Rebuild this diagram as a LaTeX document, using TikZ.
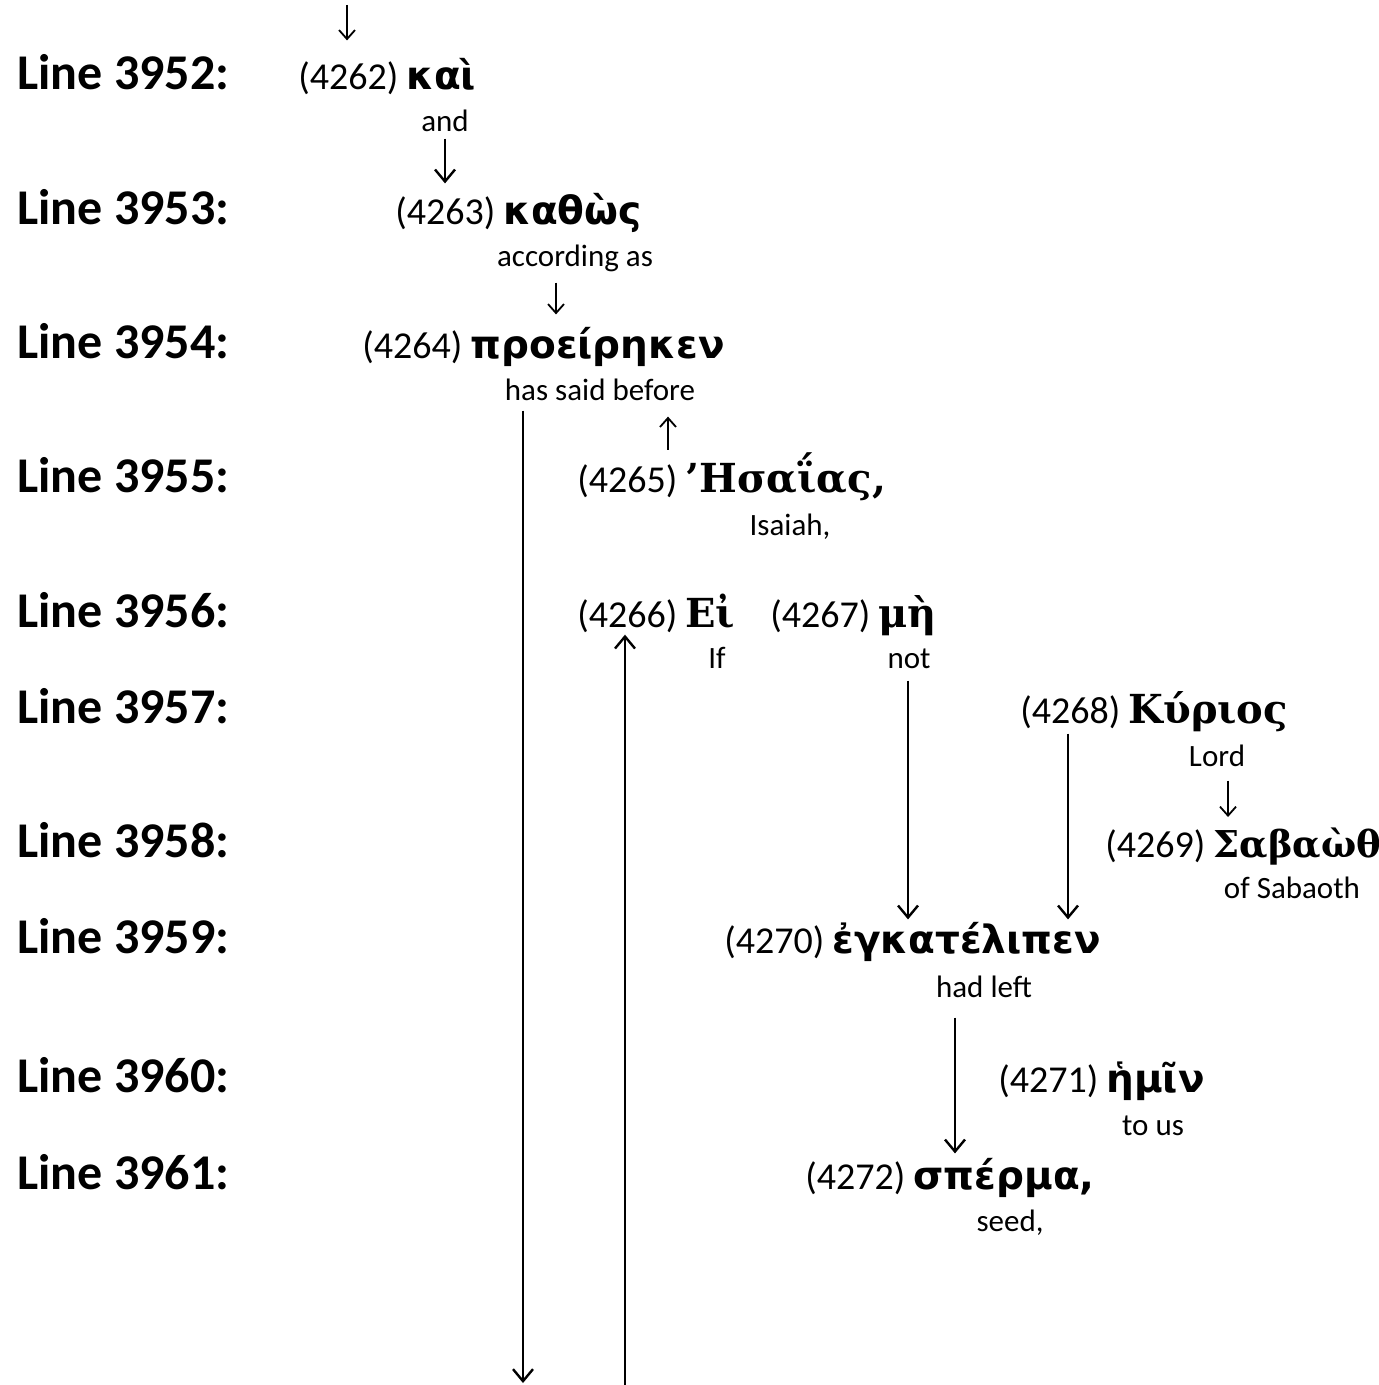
\documentclass[tikz,border=0pt]{standalone}
\usepackage{fontspec}
\setmainfont{Carlito}
\newfontfamily\grksans{DejaVu Sans}
\newfontfamily\grkserif{DejaVu Serif}
\usetikzlibrary{arrows.meta}
\newcommand\wnum[1]{{\fontsize{19}{22}\selectfont(#1)}\hspace{4pt}}
\newcommand\gs[1]{{\grksans\bfseries\fontsize{19.5}{24}\selectfont #1}}
\newcommand\gr[1]{{\grkserif\bfseries\fontsize{20}{24}\selectfont #1}}
\begin{document}
\begin{tikzpicture}[x=0.5pt,y=-0.5pt,
  lbl/.style={anchor=base west,inner sep=0,font=\fontsize{25}{28}\selectfont\bfseries},
  word/.style={anchor=base west,inner sep=0},
  gls/.style={anchor=base,inner sep=0,font=\fontsize{15.5}{18}\selectfont},
  arr/.style={line width=1.2pt,-{Straight Barb[length=6pt,width=10pt]}},
  sarr/.style={line width=0.9pt,-{Straight Barb[length=4.5pt,width=8pt]}}]
\useasboundingbox (0,0) rectangle (1379,1385);
% line labels
\node[lbl] (L52) at (17,90)   {Line 3952:};
\node[lbl] (L53) at (17,225)  {Line 3953:};
\node[lbl] (L54) at (17,358)  {Line 3954:};
\node[lbl] (L55) at (17,492)  {Line 3955:};
\node[lbl] (L56) at (17,627)  {Line 3956:};
\node[lbl] (L57) at (17,723)  {Line 3957:};
\node[lbl] (L58) at (17,857)  {Line 3958:};
\node[lbl] (L59) at (17,953)  {Line 3959:};
\node[lbl] (L60) at (17,1092) {Line 3960:};
\node[lbl] (L61) at (17,1189) {Line 3961:};
% words
\node[word] (w4262) at (298,90)   {\wnum{4262}\gs{καὶ}};
\node[word] (w4263) at (395,225)  {\wnum{4263}\gs{καθὼς}};
\node[word] (w4264) at (362,358)  {\wnum{4264}\gs{προείρηκεν}};
\node[word] (w4265) at (577,492)  {\wnum{4265}\gr{’Ησαΐας,}};
\node[word] (w4266) at (577,627)  {\wnum{4266}\gr{Εἰ}};
\node[word] (w4267) at (770,627)  {\wnum{4267}\gr{μὴ}};
\node[word] (w4268) at (1020,723) {\wnum{4268}\gr{Κύριος}};
\node[word] (w4269) at (1105,857) {\wnum{4269}{\grkserif\bfseries\fontsize{18.5}{24}\selectfont Σαβαὼθ}};
\node[word] (w4270) at (724,953)  {\wnum{4270}\gs{ἐγκατέλιπεν}};
\node[word] (w4271) at (998,1092) {\wnum{4271}\gs{ἡμῖν}};
\node[word] (w4272) at (805,1189) {\wnum{4272}\gs{σπέρμα,}};
% glosses
\node[gls] (gAnd) at (445,132)  {and};
\node[gls] (gAcc) at (575,267)  {according as};
\node[gls] (gHas) at (600,400)  {has said before};
\node[gls] (gIsa) at (790,535)  {Isaiah,};
\node[gls] (gIf)  at (717,668)  {If};
\node[gls] (gNot) at (909,668)  {not};
\node[gls] (gLord) at (1217,766) {Lord};
\node[gls] (gSab) at (1292,898) {of Sabaoth};
\node[gls] (gHad) at (984,997)  {had left};
\node[gls] (gUs)  at (1153,1135) {to us};
\node[gls] (gSeed) at (1010,1231) {seed,};
% column coordinates and free ends
\coordinate (top) at (347,5);
\coordinate (kAcc) at (556,0);
\coordinate (kUp) at (668,0);
\coordinate (kL)  at (523,0);
\coordinate (kR)  at (625,0);
\coordinate (kNot) at (908,0);
\coordinate (kKy) at (1068,0);
\coordinate (kLo) at (1228,0);
\coordinate (kHad) at (955,0);
\coordinate (bot1) at (523,1383);
\coordinate (bot2) at (625,1385);
% connectors
\draw[sarr,shorten >=9pt] (top) -- (top |- w4262.north);
\draw[arr,shorten <=3pt,shorten >=5pt] (gAnd.south) -- (gAnd.south |- w4263.north);
\draw[sarr,shorten <=5pt,shorten >=6pt] (kAcc |- gAcc.south) -- (kAcc |- w4264.north);
\draw[sarr,shorten <=1pt,shorten >=8pt] (kUp |- w4265.north) -- (kUp |- gHas.south);
\draw[arr,shorten <=5pt] (kL |- gHas.south) -- (bot1);
\draw[arr,shorten >=1pt] (bot2) -- (kR |- w4266.south);
\draw[arr,shorten <=6pt,shorten >=1pt] (kNot |- gNot.south) -- (kNot |- w4270.north);
\draw[arr,shorten <=1pt,shorten >=1pt] (kKy |- w4268.south) -- (kKy |- w4270.north);
\draw[sarr,shorten <=7pt,shorten >=5pt] (kLo |- gLord.south) -- (kLo |- w4269.north);
\draw[arr,shorten <=10pt,shorten >=2pt] (kHad |- gHad.south) -- (kHad |- w4272.north);
\end{tikzpicture}
\end{document}
